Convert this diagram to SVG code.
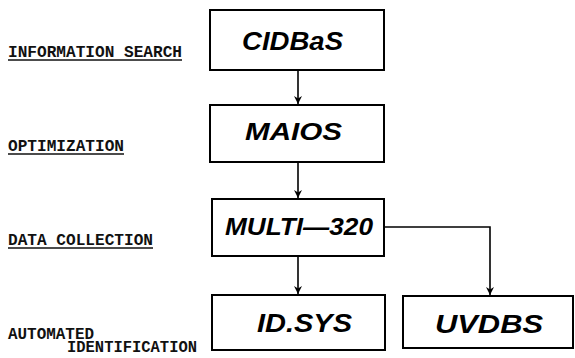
<svg xmlns="http://www.w3.org/2000/svg" width="575" height="358" viewBox="0 0 575 358">
<style>
.box{fill:#fff;stroke:#000;stroke-width:2}
.bt{font-family:"Liberation Sans",Arial,sans-serif;font-weight:bold;font-style:italic;fill:#000}
.lbl{font-family:"Liberation Mono","Courier New",monospace;font-size:16px;font-weight:bold;fill:#111}
.ul{stroke:#111;stroke-width:1.5}
.con{fill:none;stroke:#000;stroke-width:1.6}
</style>
<defs>
<marker id="ah" viewBox="0 0 10 10" refX="10" refY="5" markerWidth="8" markerHeight="8" markerUnits="userSpaceOnUse" orient="auto">
<path d="M0,0 L10,5 L0,10 L3,5 Z" fill="#000"/>
</marker>
</defs>
<g id="labels">
<text class="lbl" x="8" y="57" textLength="174" lengthAdjust="spacingAndGlyphs">INFORMATION SEARCH</text>
<line class="ul" x1="8" y1="60" x2="182" y2="60"/>
<text class="lbl" x="8" y="151" textLength="116" lengthAdjust="spacingAndGlyphs">OPTIMIZATION</text>
<line class="ul" x1="8" y1="154" x2="124" y2="154"/>
<text class="lbl" x="8" y="245" textLength="145" lengthAdjust="spacingAndGlyphs">DATA COLLECTION</text>
<line class="ul" x1="8" y1="248" x2="153" y2="248"/>
<text class="lbl" x="8" y="339" textLength="86" lengthAdjust="spacingAndGlyphs">AUTOMATED</text>
<text class="lbl" x="67" y="352" textLength="130" lengthAdjust="spacingAndGlyphs">IDENTIFICATION</text>
</g>
<g id="connectors">
<line class="con" x1="298" y1="70" x2="298" y2="104" marker-end="url(#ah)"/>
<line class="con" x1="298" y1="162" x2="298" y2="198" marker-end="url(#ah)"/>
<line class="con" x1="298" y1="256" x2="298" y2="294" marker-end="url(#ah)"/>
<polyline class="con" points="385,227 490,227 490,295" marker-end="url(#ah)"/>
</g>
<g id="cidbas">
<rect class="box" x="210" y="10" width="174" height="60"/>
<text class="bt" x="242" y="50" font-size="25" textLength="101" lengthAdjust="spacingAndGlyphs">CIDBaS</text>
</g>
<g id="maios">
<rect class="box" x="210" y="105" width="174" height="57"/>
<text class="bt" x="245" y="140" font-size="24" textLength="97" lengthAdjust="spacingAndGlyphs">MAIOS</text>
</g>
<g id="multi320">
<rect class="box" x="212" y="199" width="172" height="57"/>
<text class="bt" x="225" y="235" font-size="23" textLength="148" lengthAdjust="spacingAndGlyphs">MULTI—320</text>
</g>
<g id="idsys">
<rect class="box" x="212" y="295" width="173" height="55"/>
<text class="bt" x="257" y="332" font-size="26" textLength="95" lengthAdjust="spacingAndGlyphs">ID.SYS</text>
</g>
<g id="uvdbs">
<rect class="box" x="403" y="296" width="170" height="52"/>
<text class="bt" x="435" y="333" font-size="26" textLength="108" lengthAdjust="spacingAndGlyphs">UVDBS</text>
</g>
</svg>
